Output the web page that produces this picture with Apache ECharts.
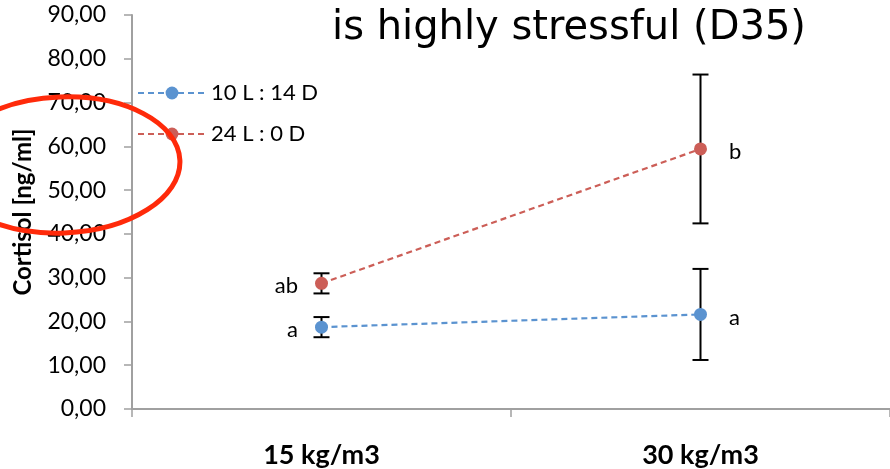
<!DOCTYPE html>
<html><head><meta charset="utf-8">
<script src="https://cdn.jsdelivr.net/npm/echarts@6/dist/echarts.min.js"></script>
<style>html,body{margin:0;padding:0;background:#fff}#c{width:890px;height:469px}</style>
</head><body><div id="c"></div>
<script>
const categories = ['15 kg/m3', '30 kg/m3'];
const seriesNames = ['10 L : 14 D', '24 L : 0 D'];
const blueValues = [18.7, 21.6];
const blueErr = [2.3, 10.4];
const blueLetters = ['a', 'a'];
const redValues = [28.7, 59.4];
const redErr = [2.3, 17.0];
const redLetters = ['ab', 'b'];
const yTicks = [0, 10, 20, 30, 40, 50, 60, 70, 80, 90];

const blue = '#5B93D0', red = '#CC5E57';
const font = 'Lato, "Open Sans", sans-serif';

function errSeries(vals, errs) {
  return {
    type: 'custom', z: 1, silent: true,
    data: vals.map((v, i) => [i, v - errs[i], v + errs[i]]),
    renderItem: (params, api) => {
      const lo = api.coord([api.value(0), api.value(1)]);
      const hi = api.coord([api.value(0), api.value(2)]);
      const w = 8;
      const st = { stroke: '#000', lineWidth: 2 };
      return { type: 'group', children: [
        { type: 'line', shape: { x1: lo[0], y1: lo[1], x2: hi[0], y2: hi[1] }, style: st },
        { type: 'line', shape: { x1: lo[0]-w, y1: lo[1], x2: lo[0]+w, y2: lo[1] }, style: st },
        { type: 'line', shape: { x1: hi[0]-w, y1: hi[1], x2: hi[0]+w, y2: hi[1] }, style: st }
      ]};
    }
  };
}
function lineSeries(name, vals, letters, color) {
  return {
    name, type: 'line', z: 3,
    data: vals.map((v, i) => ({ value: v, label: { show: true, formatter: letters[i],
      position: i === 0 ? 'left' : 'right', distance: i === 0 ? 17 : 22, offset: [0, 3] } })),
    symbol: 'circle', symbolSize: 13,
    itemStyle: { color },
    lineStyle: { color, type: [6, 4], width: 2.2 },
    label: { color: '#000', fontSize: 22, fontFamily: font }
  };
}

const chart = echarts.init(document.getElementById('c'));
chart.setOption({
  animation: false,
  grid: { left: 132, right: 0, top: 15, bottom: 58 },
  title: { text: 'is highly stressful (D35)', left: 564, top: 4, textAlign: 'center',
    textStyle: { fontFamily: '"DejaVu Sans", sans-serif', fontWeight: 'normal', fontSize: 40, color: '#000' } },
  legend: {
    orient: 'vertical', left: 132, top: 77, itemGap: 19, itemWidth: 68, itemHeight: 16,
    textStyle: { fontFamily: font, fontSize: 22, color: '#000', padding: [4, 0, 0, 0] },
    data: seriesNames
  },
  xAxis: {
    type: 'category', data: categories, boundaryGap: true,
    axisLine: { lineStyle: { color: '#A0A0A0', width: 2 } },
    axisTick: { show: true, length: 8, lineStyle: { color: '#A0A0A0', width: 1.5 } },
    axisLabel: { margin: 33, fontFamily: font, fontWeight: 'bold', fontSize: 27, color: '#000' }
  },
  yAxis: {
    type: 'value', min: yTicks[0], max: yTicks[yTicks.length - 1], interval: 10,
    name: 'Cortisol [ng/ml]', nameLocation: 'middle', nameGap: 97, nameRotate: 90,
    nameTextStyle: { fontFamily: font, fontWeight: 'bold', fontSize: 24, color: '#000' },
    axisLine: { show: true, lineStyle: { color: '#A0A0A0', width: 2 } },
    axisTick: { show: true, length: 8, lineStyle: { color: '#A0A0A0', width: 1.5 } },
    splitLine: { show: false },
    axisLabel: { margin: 26, fontFamily: font, fontSize: 23, color: '#000', padding: [8, 0, 0, 0],
      formatter: v => v.toFixed(2).replace('.', ',') }
  },
  series: [
    errSeries(blueValues, blueErr),
    errSeries(redValues, redErr),
    lineSeries(seriesNames[0], blueValues, blueLetters, blue),
    lineSeries(seriesNames[1], redValues, redLetters, red)
  ],
  graphic: [{
    type: 'ellipse', z: 100, rotation: 0.04, x: 62, y: 165,
    shape: { cx: 0, cy: 0, rx: 118, ry: 68 },
    style: { fill: 'none', stroke: '#FF2A0A', lineWidth: 5 }
  }]
});
</script></body></html>
